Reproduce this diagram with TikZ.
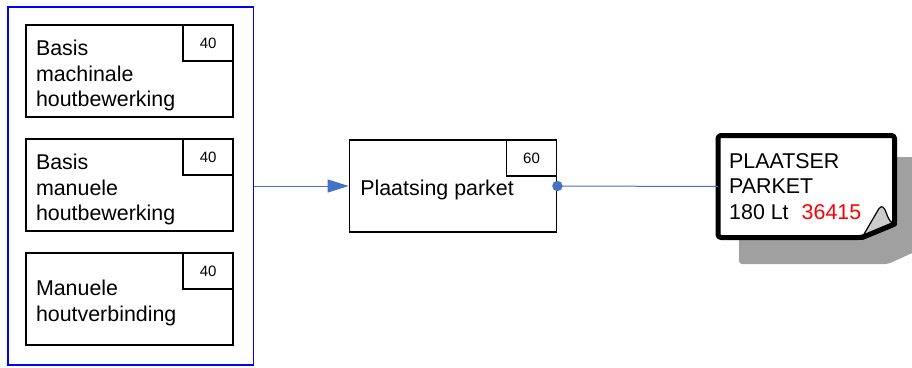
\documentclass[tikz,border=0pt]{standalone}
\usepackage{fontspec}
\setmainfont{Liberation Sans}
\usetikzlibrary{arrows.meta}
\definecolor{connblue}{RGB}{68,114,196}
\definecolor{groupblue}{RGB}{0,0,255}
\definecolor{shadowgray}{RGB}{160,160,160}
\definecolor{flapgray}{RGB}{204,204,204}
\begin{document}
\begin{tikzpicture}[x=1pt,y=-1pt,
  box/.style={draw=black,line width=1.8pt,minimum width=207pt,minimum height=92pt,inner sep=0pt},
  numbox/.style={draw=black,line width=1.8pt,minimum width=50pt,minimum height=36pt,inner sep=0pt,font=\fontsize{15}{18}\selectfont},
  lbl/.style={inner sep=0pt,align=left,font=\fontsize{21.4}{25.5}\selectfont},
  conn/.style={draw=connblue,line width=1pt},
  groupbox/.style={draw=groupblue,line width=1.5pt,minimum width=245.5pt,minimum height=358pt,inner sep=0pt},
  notecore/.style={minimum width=176.5pt,minimum height=102pt,inner sep=0pt,outer sep=0pt}]
\useasboundingbox (0,0) rectangle (912,367);
\fill[white] (0,0) rectangle (912,367);

% group
\node[groupbox] (grp) at (130.75,186) {};

% left boxes
\node[box] (b1) at (129.7,71.2) {};
\node[numbox,anchor=north east] (n1) at (b1.north east) {40};
\node[lbl,anchor=west] (t1) at ([xshift=10.5pt,yshift=-4.7pt]b1.west) {Basis\\machinale\\houtbewerking};

\node[box] (b2) at (129.7,185.2) {};
\node[numbox,anchor=north east] (n2) at (b2.north east) {40};
\node[lbl,anchor=west] (t2) at ([xshift=10.5pt,yshift=-4.7pt]b2.west) {Basis\\manuele\\houtbewerking};

\node[box] (b3) at (129.7,299.2) {};
\node[numbox,anchor=north east] (n3) at (b3.north east) {40};
\node[lbl,anchor=west] (t3) at ([xshift=10.5pt,yshift=-3.8pt]b3.west) {Manuele\\houtverbinding};

% middle box
\node[box] (mid) at (453,186) {};
\node[numbox,anchor=north east] (n4) at (mid.north east) {60};
\node[lbl,anchor=base west] (t4) at ([xshift=11.5pt,yshift=-9pt]mid.west) {Plaatsing parket};

% note
\node[notecore] (note) at (806.25,186.5) {};
\fill[shadowgray,rounded corners=3pt] (739,157) -- (921,157) -- (921,249) -- (888,264) -- (739,264) -- cycle;
\draw[line width=5pt,fill=white,rounded corners=3pt,line join=round] (718,135.5) -- (894.5,135.5) -- (894.5,224) -- (862,237.5) -- (718,237.5) -- cycle;
\filldraw[fill=flapgray,draw=black,line width=1.2pt,line join=round] (862,237.5) -- (879,208.5) .. controls (882,204.5) and (884.5,207.5) .. (886.5,213.5) .. controls (888.5,219.5) and (890.5,222.5) .. (894.5,224) -- cycle;
\draw[line width=5pt,line cap=round] (862,237.5) -- (894.5,224);
\node[lbl,anchor=west] (t5) at ([xshift=11pt]note.west) {PLAATSER\\PARKET\\180 Lt\hspace{13pt}\textcolor{red}{36415}};

% connectors
\draw[conn,-{Triangle[length=21pt,width=13pt]}] (grp.east) -- (mid.west);
\draw[conn] (mid.east) -- (note.west);
\fill[connblue] (mid.east) circle (5.2pt);
\end{tikzpicture}
\end{document}
